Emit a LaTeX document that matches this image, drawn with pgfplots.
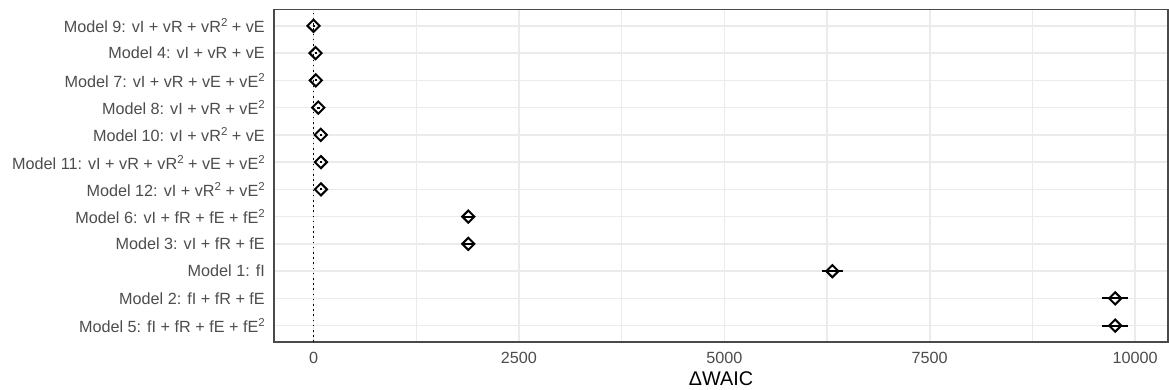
\documentclass[border=0pt]{standalone}
\usepackage{fontspec}
\setmainfont{Liberation Sans}
\usepackage{pgfplots}
\usepackage{pgfplotstable}
\pgfplotsset{compat=1.18}
\definecolor{gridc}{HTML}{EBEBEB}
\definecolor{tickc}{HTML}{4D4D4D}
\definecolor{borderc}{HTML}{4A4A4A}
\newcommand\sq{\raisebox{6pt}{\fontsize{11.5}{12}\selectfont 2}}

\pgfplotstableread{
y x err
12 0 10
11 25 12
10 28 12
9 58 15
8 88 15
7 90 15
6 90 15
5 1884 70
4 1884 70
3 6315 128
2 9757 160
1 9757 160
}\waic

\begin{document}
\begin{tikzpicture}
\useasboundingbox (-274pt,-48pt) rectangle (895pt,342pt);
\begin{axis}[
 at={(0pt,0pt)}, anchor=south west,
 width=894pt, height=332.5pt, scale only axis,
 xmin=-481, xmax=10400, ymin=0.4, ymax=12.6,
 scaled x ticks=false,
 xtick={0,2500,5000,7500,10000}, xticklabels={0,2500,5000,7500,10000},
 minor xtick={1250,3750,6250,8750},
 ytick={1,...,12},
 yticklabels={
  {Model 5: fI + fR + fE + fE\sq},
  {Model 2: fI + fR + fE},
  {Model 1: fI},
  {Model 3: vI + fR + fE},
  {Model 6: vI + fR + fE + fE\sq},
  {Model 12: vI + vR\sq{} + vE\sq},
  {Model 11: vI + vR + vR\sq{} + vE + vE\sq},
  {Model 10: vI + vR\sq{} + vE},
  {Model 8: vI + vR + vE\sq},
  {Model 7: vI + vR + vE + vE\sq},
  {Model 4: vI + vR + vE},
  {Model 9: vI + vR + vR\sq{} + vE}},
 major tick length=0pt, minor tick length=0pt,
 xmajorgrids, xminorgrids, ymajorgrids,
 major grid style={gridc, line width=1.6pt},
 minor grid style={gridc, line width=1.1pt},
 axis line style={borderc, line width=1.1pt},
 tick label style={font=\fontsize{16.2}{19}\selectfont, text=tickc},
 yticklabel style={inner sep=0pt, xshift=-9pt, anchor=east},
 xticklabel style={inner sep=0pt, yshift=-10pt, anchor=north},
 xlabel={ΔWAIC},
 xlabel style={font=\fontsize{19.8}{22}\selectfont, at={(axis description cs:0.5,0)}, anchor=north, yshift=-29.7pt, inner sep=0pt},
]
\addplot[black, line width=1.5pt, dash pattern=on 1.5pt off 3.7pt] coordinates {(0,0.4) (0,12.6)};
\addplot[black, only marks, mark=square, mark size=4.3pt,
  mark options={line width=2pt, black, rotate=45},
  error bars/.cd, x dir=both, x explicit,
  error bar style={line width=1.9pt, black}, error mark=none]
  table[x=x, y=y, x error=err] {\waic};
\end{axis}
\end{tikzpicture}
\end{document}
